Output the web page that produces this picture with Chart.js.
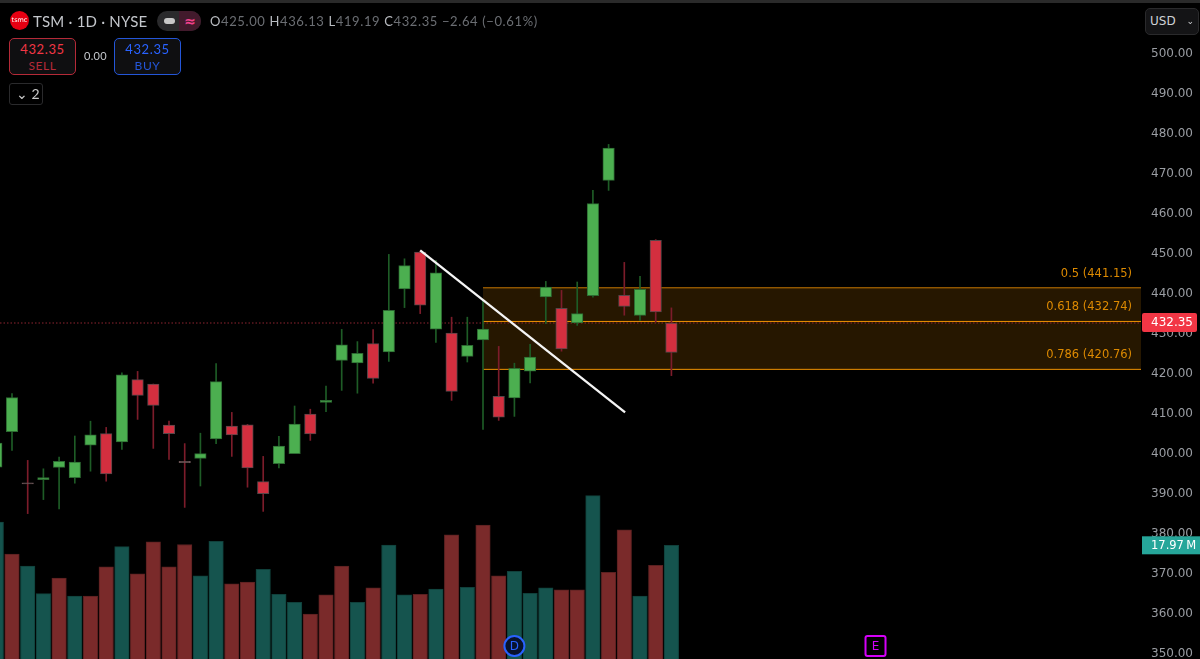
<!DOCTYPE html>
<html>
<head>
<meta charset="utf-8">
<script src="https://cdn.jsdelivr.net/npm/chart.js@4"></script>
<style>
    html, body { margin: 0; padding: 0; background: #000; width: 1200px; height: 659px; overflow: hidden; }
    body { font-family: "DejaVu Sans", sans-serif; position: relative; }
    canvas { position: absolute; left: 0; top: 0; }
    .abs { position: absolute; white-space: nowrap; }
    .topline { left: 0; top: 0; width: 1200px; height: 3px; background: #2a2a2a; }
    .logo { left: 10px; top: 11px; width: 19px; height: 19px; border-radius: 50%; background: #e60012; color: #fff; font-size: 6.5px; line-height: 19px; text-align: center; }
    .title { left: 33px; top: 11px; font-size: 15px; line-height: 20px; color: #c4c7cc; font-family: "Lato", sans-serif; letter-spacing: 0.2px; }
    .pill { left: 157px; top: 11px; width: 44px; height: 20px; border-radius: 10px; background: #2a2a2c; overflow: hidden; }
    .pill .right { position: absolute; left: 22px; top: 0; width: 22px; height: 20px; background: #421a2c; color: #f2418c; font-size: 14px; line-height: 20px; text-align: center; font-weight: bold; }
    .pill .dash { position: absolute; left: 7px; top: 7px; width: 11px; height: 6px; border-radius: 3px; background: #c8c8c8; }
    .ohlc { left: 210px; top: 12px; font-size: 13px; line-height: 18px; color: #6b6e73; font-family: "Lato", sans-serif; letter-spacing: 0.62px; }
    .ohlc b { color: #b9bcc1; font-weight: normal; }
    .box { box-sizing: border-box; border-radius: 5px; background: #0f0f11; text-align: center; }
    .sell { left: 9px; top: 38px; width: 67px; height: 37px; border: 1px solid #b52a38; }
    .buy { left: 114px; top: 38px; width: 67px; height: 37px; border: 1px solid #2456d8; }
    .box div { font-family: "Lato", sans-serif; letter-spacing: 0.6px; }
    .sell .p { color: #f23645; font-size: 13px; line-height: 17px; margin-top: 2px; }
    .sell .l { color: #b52a38; font-size: 12px; line-height: 15px; }
    .buy .p { color: #2962ff; font-size: 13px; line-height: 17px; margin-top: 2px; }
    .buy .l { color: #2456d8; font-size: 12px; line-height: 15px; }
    .spread { left: 84px; top: 48px; font-size: 11px; line-height: 16px; color: #c4c7cc; font-family: "Lato", sans-serif; letter-spacing: 0.3px; }
    .count { left: 9px; top: 83px; width: 34px; height: 22px; box-sizing: border-box; border: 1px solid #2a2a2c; border-radius: 3px; color: #c8c8c8; font-size: 14px; line-height: 20px; padding-left: 6px; font-family: "Lato", sans-serif; }
    .usd { left: 1145px; top: 8px; width: 54px; height: 27px; box-sizing: border-box; border: 1px solid #2a2a2c; border-radius: 5px; background: #141416; color: #d0d2d6; font-size: 12px; line-height: 25px; padding-left: 4px; }
    .usd span { position: absolute; right: 4px; top: 0; font-size: 9px; }
</style>
</head>
<body>
<canvas id="priceChart" width="1200" height="659"></canvas>
<div class="abs topline"></div>
<div class="abs logo">tsmc</div>
<div class="abs title">TSM · 1D · NYSE</div>
<div class="abs pill"><div class="dash"></div><div class="right">≈</div></div>
<div class="abs ohlc"><b>O</b>425.00 <b>H</b>436.13 <b>L</b>419.19 <b>C</b>432.35 −2.64 (−0.61%)</div>
<div class="abs box sell"><div class="p">432.35</div><div class="l">SELL</div></div>
<div class="abs spread">0.00</div>
<div class="abs box buy"><div class="p">432.35</div><div class="l">BUY</div></div>
<div class="abs count">⌄ 2</div>
<div class="abs usd">USD<span>⌄</span></div>
<script>
// daily candles
var opens = [396.3, 405.2, 392.4, 393.2, 396.25, 393.7, 401.8, 404.7, 402.6, 418.2, 417.1, 406.8, 397.75, 398.5, 403.4, 406.6, 406.9, 392.7, 397.2, 399.7, 409.6, 412.5, 423, 422.4, 427.2, 425.1, 440.9, 450.1, 430.8, 429.8, 424, 428.1, 414, 413.6, 420.3, 438.9, 436, 432.4, 439.2, 468, 439.25, 434.25, 453, 432.35];
var highs = [403.5, 414.7, 398, 395.9, 398.8, 404.1, 407.8, 406.25, 419.9, 420.25, 417.1, 407.8, 402.2, 404.8, 422.2, 410, 407, 399, 404, 411.6, 410.8, 416.6, 430.75, 427.7, 430.7, 449.5, 448.4, 450.3, 448, 433.8, 433.8, 438, 426.5, 422.3, 427, 442.75, 440.5, 442.6, 465.5, 477, 447.5, 444, 453.2, 436.13];
var lows = [395, 400.5, 384.7, 388.2, 385.9, 392.3, 395.3, 392.8, 400.75, 408.25, 401, 398.25, 386.25, 391.6, 402.2, 399, 391.3, 385.25, 396.1, 399.7, 403, 410.2, 415.5, 414.8, 417.3, 422.75, 436.2, 434.7, 427.5, 413, 422.6, 405.75, 408, 409, 417.4, 432.2, 425.3, 431.75, 438.8, 465.5, 434.3, 433, 432.6, 419.19];
var closes = [402.3, 413.7, 392.1, 393.7, 397.75, 397.6, 404.4, 394.6, 419.4, 414.25, 411.75, 404.7, 397.45, 399.7, 417.7, 404.4, 396.1, 389.7, 401.6, 407.1, 404.6, 413, 426.9, 424.75, 418.5, 435.5, 446.7, 436.8, 444.9, 415.25, 426.75, 430.8, 408.8, 421, 423.8, 441.3, 425.9, 434.7, 462.2, 476.1, 436.5, 440.75, 435.1, 425];

// volume in millions, 1 = teal bar, 0 = maroon bar
var volumes = [21.6, 16.6, 14.7, 10.4, 12.85, 10, 10, 14.6, 17.75, 13.5, 18.5, 14.6, 18.1, 13.2, 18.6, 11.95, 12.2, 14.2, 10.3, 9.05, 7.2, 10.2, 14.7, 9.05, 11.3, 18, 10.2, 10.3, 11.1, 19.6, 11.4, 21.15, 13.2, 13.9, 10.45, 11.3, 11, 11, 25.75, 13.75, 20.4, 10, 14.85, 17.97];
var volumeUp = [1, 0, 1, 1, 0, 1, 0, 0, 1, 0, 0, 0, 0, 1, 1, 0, 0, 1, 1, 1, 0, 0, 0, 1, 0, 1, 1, 0, 1, 0, 1, 0, 0, 1, 1, 1, 0, 0, 1, 0, 0, 1, 0, 1];

var priceTicks = [350, 360, 370, 380, 390, 400, 410, 420, 430, 440, 450, 460, 470, 480, 490, 500];

// fibonacci retracement and the drawn trend line
var fibRatios = ["0.5", "0.618", "0.786"];
var fibPrices = [441.15, 432.74, 420.76];
var fibStartBar = 31;
var trendBars = [27, 40.05];
var trendPrices = [450.5, 410];

var lastPrice = 432.35;
var lastVolume = "17.97\u2009M";
var dividendBar = 33;
var earningsBar = 56;

var xMin = 0.2357;
var xMax = 72.91;
var barIndex = opens.map(function(v, i) { return i; });

function isDoji(i) { return Math.abs(opens[i] - closes[i]) < 0.35; }

var wickColors = barIndex.map(function(i) { return closes[i] >= opens[i] ? "#1e5c26" : "#7c1c2a"; });
var bodyColors = barIndex.map(function(i) {
    if (isDoji(i)) return "#6b5557";
    return closes[i] >= opens[i] ? "#4caf50" : "#d32f3f";
});
var bodyBorders = barIndex.map(function(i) {
    if (isDoji(i)) return "#6b5557";
    return closes[i] >= opens[i] ? "#2d6a32" : "#574649";
});

function lineAt(price, color) {
    return {
        type: "line",
        data: [{ x: fibStartBar, y: price }, { x: xMax, y: price }],
        borderColor: color,
        borderWidth: 1,
        pointRadius: 0,
        order: 6
    };
}

// tags, labels and event markers are placed through the chart scales
var overlayPlugin = {
    id: "overlay",
    afterDatasetsDraw: function(chart) {
        var ctx = chart.ctx;
        var x = chart.scales.x;
        var y = chart.scales.y;
        ctx.save();

        ctx.font = "11.5px 'DejaVu Sans'";
        ctx.fillStyle = "#dd8a00";
        ctx.textAlign = "right";
        ctx.textBaseline = "middle";
        for (var i = 0; i < fibPrices.length; i++) {
            ctx.fillText(fibRatios[i] + " (" + fibPrices[i].toFixed(2) + ")", 1132, y.getPixelForValue(fibPrices[i]) - 14);
        }

        var lastY = y.getPixelForValue(lastPrice);
        ctx.fillStyle = "#f23645";
        ctx.beginPath();
        ctx.roundRect(1142, lastY - 10, 55, 19, 2);
        ctx.fill();
        ctx.fillStyle = "#fff";
        ctx.font = "12px 'DejaVu Sans'";
        ctx.textAlign = "left";
        ctx.fillText(lastPrice.toFixed(2), 1151, lastY);

        var volY = chart.scales.yVol.getPixelForValue(volumes[volumes.length - 1]);
        ctx.fillStyle = "#26a69a";
        ctx.fillRect(1142, volY - 9, 58, 18);
        ctx.fillStyle = "#fff";
        ctx.font = "11.5px 'DejaVu Sans'";
        ctx.fillText(lastVolume, 1151, volY + 1);

        var dx = x.getPixelForValue(dividendBar);
        ctx.beginPath();
        ctx.arc(dx, 646, 10, 0, Math.PI * 2);
        ctx.fillStyle = "#08122c";
        ctx.fill();
        ctx.lineWidth = 2;
        ctx.strokeStyle = "#2962ff";
        ctx.stroke();
        ctx.fillStyle = "#2962ff";
        ctx.font = "12px 'DejaVu Sans'";
        ctx.textAlign = "center";
        ctx.fillText("D", dx, 647);

        var ex = x.getPixelForValue(earningsBar);
        ctx.strokeStyle = "#d500f9";
        ctx.beginPath();
        ctx.roundRect(ex - 10, 636, 20, 20, 2);
        ctx.stroke();
        ctx.fillStyle = "#d500f9";
        ctx.fillText("E", ex, 647);
        ctx.restore();
    }
};

var ctx = document.getElementById("priceChart").getContext("2d");
var priceChart = new Chart(ctx, {
    type: "bar",
    plugins: [overlayPlugin],
    data: {
        datasets: [{
            // volume pane
            data: barIndex.map(function(i) { return { x: i, y: volumes[i] }; }),
            yAxisID: "yVol",
            grouped: false,
            barThickness: 14.5,
            borderWidth: 1,
            backgroundColor: volumeUp.map(function(u) { return u ? "#15544e" : "#7a2a2a"; }),
            borderColor: volumeUp.map(function(u) { return u ? "#10403b" : "#5a2020"; }),
            order: 8
        }, {
            // fib zone fill
            type: "line",
            data: [{ x: fibStartBar, y: fibPrices[0] }, { x: xMax, y: fibPrices[0] }],
            borderWidth: 0,
            pointRadius: 0,
            fill: { target: { value: fibPrices[2] } },
            backgroundColor: "rgba(255, 152, 0, 0.15)",
            order: 7
        },
        lineAt(fibPrices[0], "#c87800"),
        lineAt(fibPrices[1], "#f09300"),
        lineAt(fibPrices[2], "#f09300"),
        {
            // last price line
            type: "line",
            data: [{ x: xMin, y: lastPrice }, { x: xMax, y: lastPrice }],
            borderColor: "#8e2430",
            borderWidth: 1,
            borderDash: [1.5, 2],
            pointRadius: 0,
            order: 5
        }, {
            // wicks
            data: barIndex.map(function(i) { return { x: i, y: [lows[i], highs[i]] }; }),
            grouped: false,
            barThickness: 1,
            backgroundColor: wickColors,
            borderWidth: 0,
            order: 4
        }, {
            // bodies
            data: barIndex.map(function(i) { return { x: i, y: [opens[i], closes[i]] }; }),
            grouped: false,
            barThickness: 11.5,
            backgroundColor: bodyColors,
            borderColor: bodyBorders,
            borderWidth: 1,
            borderSkipped: false,
            order: 3
        }, {
            // trend line
            type: "line",
            data: [{ x: trendBars[0], y: trendPrices[0] }, { x: trendBars[1], y: trendPrices[1] }],
            borderColor: "#f5f5f5",
            borderWidth: 2.3,
            pointRadius: 0,
            order: 1
        }]
    },
    options: {
        responsive: false,
        animation: false,
        layout: { padding: 0, autoPadding: false },
        plugins: {
            legend: { display: false },
            title: { display: false },
            tooltip: { enabled: false }
        },
        scales: {
            x: {
                type: "linear",
                display: false,
                offset: false,
                min: xMin,
                max: xMax
            },
            y: {
                position: "right",
                min: 348.35,
                max: 513.1,
                grid: { display: false, drawTicks: false },
                border: { display: false },
                afterFit: function(scale) {
                    scale.width = 59;
                    scale.paddingTop = 0;
                    scale.paddingBottom = 0;
                },
                afterBuildTicks: function(scale) {
                    scale.ticks = priceTicks.map(function(v) { return { value: v }; });
                },
                ticks: {
                    padding: 10,
                    labelOffset: 1.5,
                    color: "#9a9da3",
                    font: { family: "DejaVu Sans", size: 12 },
                    callback: function(v) { return Number(v).toFixed(2); }
                }
            },
            yVol: {
                display: false,
                min: 0.157,
                max: 103.4
            }
        }
    }
});
</script>
</body>
</html>
